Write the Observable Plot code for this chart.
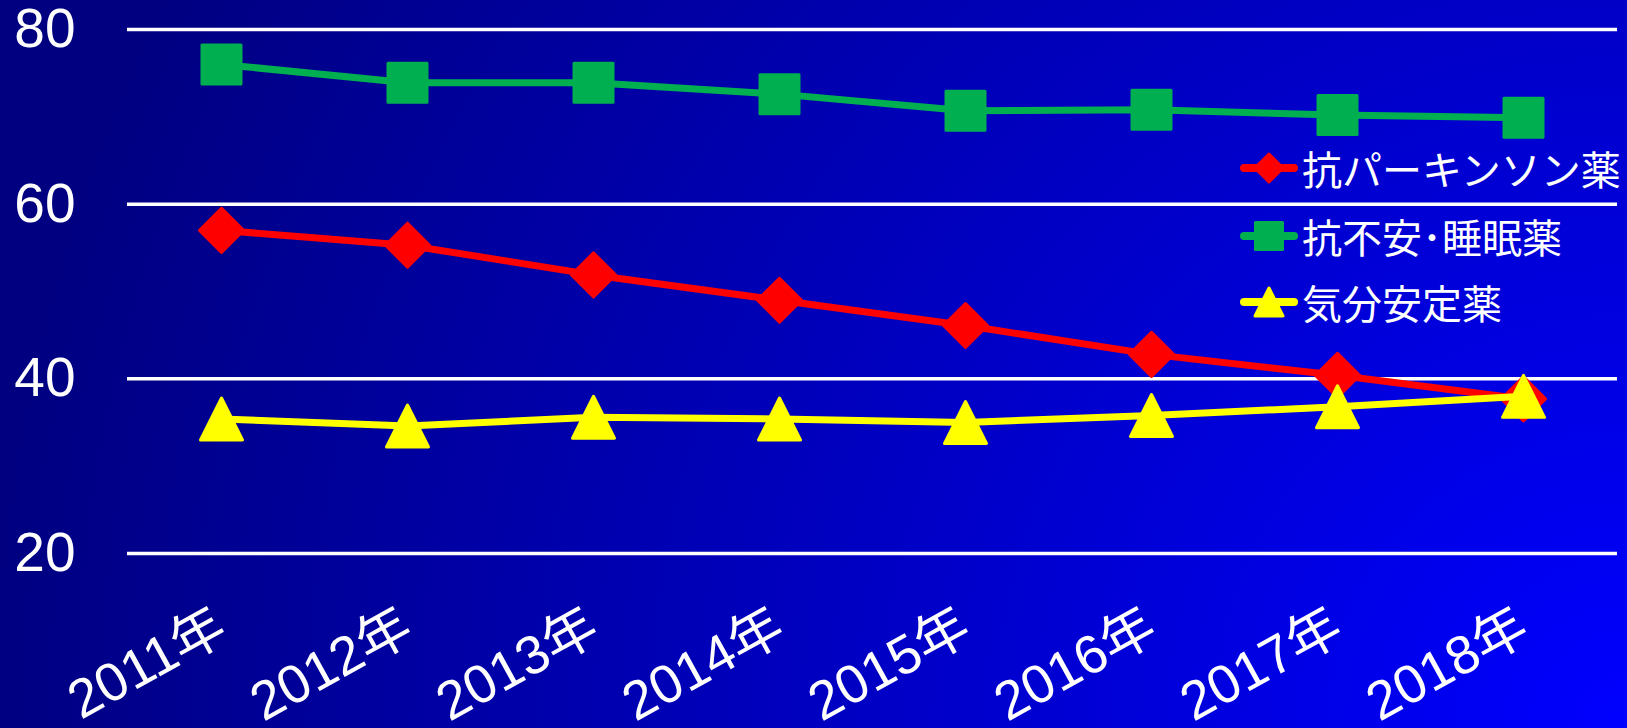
<!DOCTYPE html>
<html>
<head>
<meta charset="utf-8">
<script src="https://cdn.jsdelivr.net/npm/d3@7"></script>
<script src="https://cdn.jsdelivr.net/npm/@observablehq/plot@0.6"></script>
<style>
  html, body { margin: 0; padding: 0; }
  #wrap {
    position: relative; width: 1627px; height: 728px; overflow: hidden;
    background: radial-gradient(circle 1650px at 100% 100%, #0000FF 0%, #000080 100%);
    font-family: "Liberation Sans", "Noto Sans CJK JP", sans-serif;
  }
  #legend { position: absolute; left: 0; top: 0; width: 1627px; height: 728px; pointer-events: none; }
  .lg-row { position: absolute; height: 44px; display: flex; align-items: center; white-space: nowrap; width: 400px; }
  .lg-row svg { flex: none; }
  .lg-row span { color: white; font-family: "Noto Sans CJK JP", sans-serif; font-size: 40px; line-height: 44px; margin-left: 2px; white-space: nowrap; }
</style>
</head>
<body>
<div id="wrap"><div id="chart"></div><div id="legend"></div></div>
<script>
// ---- data ----
const years = ["2011年", "2012年", "2013年", "2014年", "2015年", "2016年", "2017年", "2018年"];
const seriesNames = ["抗パーキンソン薬", "抗不安･睡眠薬", "気分安定薬"];
const parkinson = [57.0, 55.3, 51.9, 49.0, 46.1, 42.8, 40.4, 37.7];
const anxiolytic = [76.0, 73.9, 73.9, 72.6, 70.7, 70.8, 70.2, 69.9];
const moodStabilizer = [35.4, 34.6, 35.6, 35.4, 35.0, 35.8, 36.8, 38.0];
const yTicks = [20, 40, 60, 80];
const colors = ["#FF0000", "#00B050", "#FFFF00"];

// ---- custom marker shapes (Excel-like) ----
const symDiamond = {draw(ctx, size) { const s = Math.sqrt(size / Math.PI); ctx.moveTo(0, -s); ctx.lineTo(s, 0); ctx.lineTo(0, s); ctx.lineTo(-s, 0); ctx.closePath(); }};
const symSquare = {draw(ctx, size) { const s = Math.sqrt(size / Math.PI); ctx.moveTo(-s, -s); ctx.lineTo(s, -s); ctx.lineTo(s, s); ctx.lineTo(-s, s); ctx.closePath(); }};
const symTriangle = {draw(ctx, size) { const s = Math.sqrt(size / Math.PI); ctx.moveTo(0, -s); ctx.lineTo(s, s); ctx.lineTo(-s, s); ctx.closePath(); }};
const symbols = [symDiamond, symSquare, symTriangle];
const markR = [22, 19.5, 21];
const legendR = [14, 13.5, 14];

const valuesList = [parkinson, anxiolytic, moodStabilizer];
const tables = valuesList.map((vals, k) => years.map((yr, i) => ({year: yr, value: vals[i], series: seriesNames[k]})));

const marks = [
  Plot.gridY({ticks: yTicks, stroke: "white", strokeOpacity: 1, strokeWidth: 3.5}),
  Plot.axisY({ticks: yTicks, tickSize: 0, tickPadding: 52, fontSize: 55, fill: "white", fontFamily: "Liberation Sans, sans-serif"}),
  Plot.axisX({tickSize: 0, tickRotate: -29, tickPadding: 69, fontSize: 54, fill: "white", fontFamily: "Liberation Sans, Noto Sans CJK JP, sans-serif"})
];
tables.forEach((t, k) => {
  marks.push(Plot.line(t, {x: "year", y: "value", stroke: colors[k], strokeWidth: 7, strokeLinejoin: "round"}));
  marks.push(Plot.dot(t, {x: "year", y: "value", symbol: symbols[k], r: markR[k], fill: colors[k], stroke: colors[k], strokeWidth: 3, strokeLinejoin: "round"}));
});

const chart = Plot.plot({
  width: 1627,
  height: 728,
  marginLeft: 127,
  marginRight: 10,
  marginTop: 29,
  marginBottom: 175,
  style: {background: "transparent", color: "white", overflow: "visible"},
  x: {type: "point", domain: years, padding: 0.5, label: null},
  y: {domain: [20, 80], label: null},
  marks
});
document.getElementById("chart").appendChild(chart);

// ---- legend (inside plot area, top right) ----
const legend = document.getElementById("legend");
const rowY = [168, 236, 302];
seriesNames.forEach((name, k) => {
  const row = document.createElement("div");
  row.className = "lg-row";
  row.style.left = "1236px";
  row.style.top = (rowY[k] - 22) + "px";
  const svg = d3.create("svg").attr("width", 64).attr("height", 44);
  svg.append("line").attr("x1", 8).attr("x2", 58).attr("y1", 22).attr("y2", 22)
    .attr("stroke", colors[k]).attr("stroke-width", 8).attr("stroke-linecap", "round");
  svg.append("path").attr("transform", "translate(33,22)")
    .attr("d", d3.symbol().type(symbols[k]).size(Math.PI * legendR[k] * legendR[k])())
    .attr("fill", colors[k]).attr("stroke", colors[k]).attr("stroke-width", 3).attr("stroke-linejoin", "round");
  row.appendChild(svg.node());
  const span = document.createElement("span");
  span.textContent = name;
  row.appendChild(span);
  legend.appendChild(row);
});
</script>
</body>
</html>
